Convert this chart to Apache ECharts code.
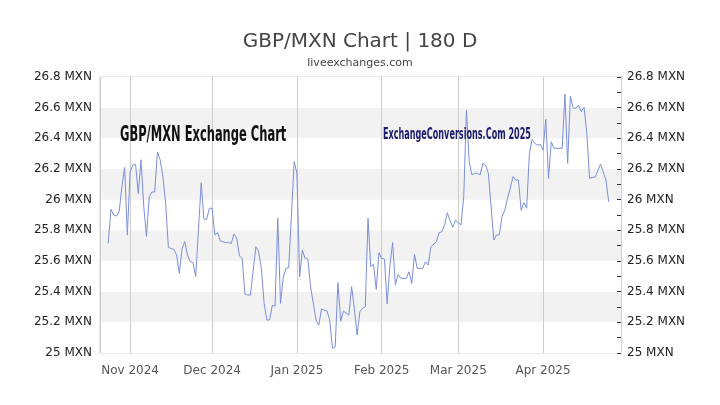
<!DOCTYPE html>
<html>
<head>
<meta charset="utf-8">
<script src="https://cdn.jsdelivr.net/npm/echarts@6/dist/echarts.min.js"></script>
<style>html,body{margin:0;padding:0;background:#fff;}#chart{width:720px;height:405px;}</style>
</head>
<body>
<div id="chart"></div>
<script>
// Data (day offsets from the start date, and GBP/MXN rates)
const startDate = [2024, 9, 24]; // 2024-10-24
const dayIndex = [0,1,2,3,4,5,6,7,8,9,10,11,12,13,14,15,16,17,18,19,20,21,22,23,24,25,26,27,28,29,30,31,32,
  34,35,36,37,38,39,40,41,43,44,45,46,47,48,49,50,51,52,54,55,56,57,58,59,60,61,62,63,64,65,66,
  68,69,70,71,72,73,74,76,77,78,79,80,81,82,83,84,85,86,88,89,90,91,92,93,94,95,96,97,98,99,100,101,
  102,103,104,105,106,107,109,110,111,112,113,115,116,117,118,120,121,122,123,124,125,126,127,128,129,
  130,131,132,133,134,135,136,137,138,139,141,142,143,144,145,146,147,148,149,150,151,152,153,154,155,
  156,157,158,159,160,161,162,163,166,167,168,169,170,171,172,173,174,175,176,177,178,180,182,183];
const rates = [25.715,25.937,25.90,25.893,25.92,26.085,26.21,25.77,26.18,26.226,26.23,26.04,26.26,25.955,25.76,26.02,26.05,26.05,26.31,26.26,26.15,25.976,25.69,25.68,25.676,25.64,25.52,25.68,25.726,25.64,25.595,25.59,25.50,
  26.11,25.874,25.872,25.944,25.944,25.77,25.785,25.73,25.72,25.72,25.715,25.776,25.748,25.632,25.617,25.384,25.378,25.378,25.693,25.66,25.552,25.324,25.215,25.215,25.31,25.306,25.879,25.324,25.493,25.552,25.556,
  26.248,26.172,25.497,25.671,25.617,25.613,25.432,25.215,25.182,25.287,25.28,25.274,25.215,25.03,25.04,25.458,25.208,25.274,25.247,25.432,25.291,25.117,25.269,25.291,25.302,25.879,25.563,25.58,25.415,25.654,25.617,25.613,
  25.32,25.57,25.72,25.443,25.513,25.487,25.487,25.53,25.454,25.643,25.552,25.552,25.595,25.574,25.693,25.726,25.785,25.791,25.835,25.915,25.863,25.82,25.867,25.85,25.835,
  26.02,26.585,26.248,26.161,26.172,26.172,26.161,26.237,26.226,26.172,25.737,25.77,25.77,25.89,25.93,26.01,26.074,26.15,26.128,26.128,25.93,25.98,25.944,26.30,26.394,
  26.367,26.356,26.36,26.324,26.524,26.139,26.378,26.335,26.335,26.689,26.237,26.676,26.596,26.596,26.617,26.574,26.602,26.433,26.139,26.146,26.146,26.231,26.128,25.987];
const monthNames = ['Jan','Feb','Mar','Apr','May','Jun','Jul','Aug','Sep','Oct','Nov','Dec'];
const yTicks = [25, 25.2, 25.4, 25.6, 25.8, 26, 26.2, 26.4, 26.6, 26.8];

const DAY = 86400000;
function dayTime(off) { return new Date(startDate[0], startDate[1], startDate[2] + off).getTime(); }
const seriesData = dayIndex.map((d, i) => [dayTime(d), rates[i]]);

const chart = echarts.init(document.getElementById('chart'), null, {renderer: 'canvas'});
const yLabelFmt = v => (Math.round(v * 10) / 10) + ' MXN';
const FONT = 'DejaVu Sans';
const NARROW = '"Liberation Sans Narrow", "DejaVu Sans Condensed", sans-serif';
chart.setOption({
  animation: false,
  backgroundColor: '#fff',
  title: {
    text: 'GBP/MXN Chart | 180 D',
    subtext: 'liveexchanges.com',
    left: 'center', top: 27, itemGap: 6,
    textStyle: {fontFamily: FONT, fontSize: 20, fontWeight: 'normal', color: '#444'},
    subtextStyle: {fontFamily: FONT, fontSize: 11, color: '#444'}
  },
  grid: {left: 100, right: 99, top: 77, bottom: 52, show: true, borderColor: '#d0d0d0', borderWidth: 1, backgroundColor: 'transparent'},
  xAxis: {
    type: 'time',
    min: dayTime(-3), max: dayTime(187) + DAY / 2,
    splitNumber: 6,
    minInterval: 28 * DAY,
    axisLine: {show: false}, axisTick: {show: false},
    splitLine: {show: true, lineStyle: {color: '#cccccc', width: 1}},
    axisLabel: {
      fontFamily: FONT, fontSize: 12, color: '#555', margin: 12,
      formatter: function (v) { const d = new Date(v); return monthNames[d.getMonth()] + ' ' + d.getFullYear(); }
    }
  },
  yAxis: [{
    type: 'value', min: yTicks[0], max: yTicks[yTicks.length - 1], interval: 0.2, position: 'left',
    axisLine: {show: false}, axisTick: {show: false},
    splitLine: {show: false},
    splitArea: {show: true, areaStyle: {color: ['#ffffff', '#f2f2f2']}},
    axisLabel: {fontFamily: FONT, fontSize: 12, color: '#222', margin: 8, formatter: yLabelFmt}
  }, {
    type: 'value', min: yTicks[0], max: yTicks[yTicks.length - 1], interval: 0.2, position: 'right',
    axisLine: {show: true, lineStyle: {color: '#d0d0d0', width: 1}},
    axisTick: {show: true, inside: true, length: 4, lineStyle: {color: '#333', width: 1}},
    minorTick: {show: true, splitNumber: 2, length: 4, lineStyle: {color: '#333', width: 1}},
    splitLine: {show: false},
    axisLabel: {fontFamily: FONT, fontSize: 12, color: '#222', margin: 6, formatter: yLabelFmt}
  }],
  graphic: [
    {type: 'text', x: 120, y: 135, scaleX: 0.58, z: 10,
     style: {text: 'GBP/MXN Exchange Chart', fontSize: 22, fontWeight: 'bold', fontFamily: NARROW, fill: '#111', verticalAlign: 'middle', align: 'left'}},
    {type: 'text', x: 383, y: 135, scaleX: 0.6, z: 10,
     style: {text: 'ExchangeConversions.Com 2025', fontSize: 15, fontWeight: 'bold', fontFamily: NARROW, fill: '#1b1b6b', verticalAlign: 'middle', align: 'left'}}
  ],
  series: [{
    type: 'line', data: seriesData, yAxisIndex: 0, showSymbol: false, symbol: 'none',
    lineStyle: {color: '#7b8fd8', width: 1}
  }]
});
</script>
</body>
</html>
